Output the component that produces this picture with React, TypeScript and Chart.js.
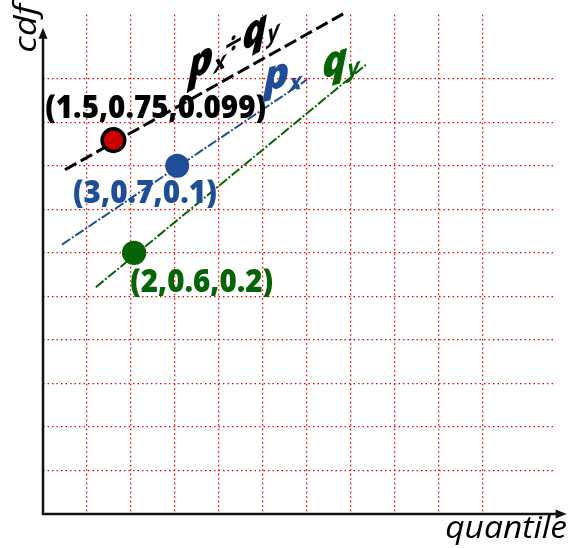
import { useEffect, useRef } from "react";
import { Chart, registerables } from "chart.js";

Chart.register(...registerables);

const BLUE = "#1F4E96";
const GREEN = "#056405";
const RED = "#CC0000";
const GRID_RED = "#e80000";

// grid units
const xMax = 11.59;
const yMax = 11.47;
const xArrowEnd = 11.9;
const yArrowEnd = 11.17;
const xGridTicks = [1, 2, 3, 4, 5, 6, 7, 8, 9, 10, 11];
const yGridTicks = [1, 2, 3, 4, 5, 6, 7, 8, 9, 10];

// lines
const blackLine = [
  { x: 0.5, y: 7.91 },
  { x: 6.82, y: 11.49 },
];
const blueLine = [
  { x: 0.43, y: 6.19 },
  { x: 6.0, y: 9.98 },
];
const greenLine = [
  { x: 1.2, y: 5.21 },
  { x: 7.36, y: 10.34 },
];

// points
const redPoint = [{ x: 1.6, y: 8.59 }];
const bluePoint = [{ x: 3.05, y: 8.0 }];
const greenPoint = [{ x: 2.07, y: 6.0 }];

// point labels
const pointLabelTexts = ["(1.5,0.75,0.099)", "(3,0.7,0.1)", "(2,0.6,0.2)"];
const pointLabelColors = ["#000000", BLUE, GREEN];
const pointLabelX0 = [0.05, 0.68, 1.98];
const pointLabelX1 = [5.07, 3.95, 5.23];
const pointLabelY = [9.1, 7.14, 5.11];

// curve labels
type Part = { t: string; sub?: boolean; sym?: boolean };
const curveLabels: { color: string; x: number; y: number; slope: number; parts: Part[] }[] = [
  {
    color: "#000000",
    x: 3.3,
    y: 9.92,
    slope: -0.57,
    parts: [{ t: "p" }, { t: "x", sub: true }, { t: "÷", sym: true }, { t: "q" }, { t: "y", sub: true }],
  },
  { color: BLUE, x: 5.02, y: 9.7, slope: -0.25, parts: [{ t: "p" }, { t: "x", sub: true }] },
  { color: GREEN, x: 6.34, y: 10.0, slope: -0.3, parts: [{ t: "q" }, { t: "y", sub: true }] },
];

const xTitle = "quantile";
const yTitle = "cdf";

const overlay = {
  id: "overlay",
  beforeDatasetsDraw(chart: any) {
    const ctx = chart.ctx;
    const xs = chart.scales.x;
    const ys = chart.scales.y;
    const x0 = xs.getPixelForValue(0);
    const y0 = ys.getPixelForValue(0);
    const xe = xs.getPixelForValue(xArrowEnd);
    const ye = ys.getPixelForValue(yArrowEnd);
    ctx.save();
    ctx.strokeStyle = "#111";
    ctx.fillStyle = "#111";
    ctx.lineWidth = 2.5;
    ctx.beginPath();
    ctx.moveTo(x0 - 1.2, y0);
    ctx.lineTo(xe - 8, y0);
    ctx.moveTo(x0, y0);
    ctx.lineTo(x0, ye + 8);
    ctx.stroke();
    ctx.beginPath();
    ctx.moveTo(xe, y0);
    ctx.lineTo(xe - 11, y0 - 4.5);
    ctx.lineTo(xe - 11, y0 + 4.5);
    ctx.closePath();
    ctx.fill();
    ctx.beginPath();
    ctx.moveTo(x0, ye);
    ctx.lineTo(x0 - 4.5, ye + 11);
    ctx.lineTo(x0 + 4.5, ye + 11);
    ctx.closePath();
    ctx.fill();
    ctx.restore();
  },
  afterDatasetsDraw(chart: any) {
    const ctx = chart.ctx;
    const xs = chart.scales.x;
    const ys = chart.scales.y;
    ctx.save();
    ctx.textBaseline = "alphabetic";
    ctx.textAlign = "left";
    // point labels, fitted to width
    pointLabelTexts.forEach((t, i) => {
      const l = xs.getPixelForValue(pointLabelX0[i]);
      const r = xs.getPixelForValue(pointLabelX1[i]);
      const b = ys.getPixelForValue(pointLabelY[i]);
      ctx.font = "800 31px 'Open Sans'";
      const w = ctx.measureText(t).width;
      ctx.save();
      ctx.translate(l, b);
      ctx.scale((r - l) / w, 1);
      ctx.fillStyle = pointLabelColors[i];
      ctx.fillText(t, 0, 0);
      ctx.restore();
    });
    // curve labels
    curveLabels.forEach((lab) => {
      ctx.save();
      ctx.translate(xs.getPixelForValue(lab.x), ys.getPixelForValue(lab.y));
      ctx.transform(1, lab.slope, 0, 1, 0, 0);
      ctx.fillStyle = lab.color;
      let cx = 0;
      lab.parts.forEach((p) => {
        if (p.sub) {
          ctx.font = "italic bold 23px 'Open Sans'";
          ctx.fillText(p.t, cx + 1, 6);
          cx += ctx.measureText(p.t).width + 2;
        } else if (p.sym) {
          ctx.font = "bold 30px 'Open Sans'";
          ctx.fillText(p.t, cx - 2, -3);
          cx += ctx.measureText(p.t).width - 2;
        } else {
          ctx.font = "italic 800 42px 'Open Sans'";
          ctx.fillText(p.t, cx, 0);
          cx += ctx.measureText(p.t).width - 1;
        }
      });
      ctx.restore();
    });
    // axis titles
    ctx.fillStyle = "#000";
    {
      const l = xs.getPixelForValue(9.14);
      const r = xs.getPixelForValue(11.91);
      const b = ys.getPixelForValue(-0.55);
      ctx.font = "italic 31px 'Open Sans'";
      const w = ctx.measureText(xTitle).width;
      ctx.save();
      ctx.translate(l, b);
      ctx.scale((r - l) / w, 1);
      ctx.fillText(xTitle, 0, 0);
      ctx.restore();
    }
    {
      const bx = xs.getPixelForValue(-0.16);
      const bot = ys.getPixelForValue(10.6);
      const top = ys.getPixelForValue(11.72);
      ctx.font = "italic 31px 'Open Sans'";
      const w = ctx.measureText(yTitle).width;
      ctx.save();
      ctx.translate(bx, bot);
      ctx.rotate(-Math.PI / 2);
      ctx.scale((bot - top) / w, 1);
      ctx.fillText(yTitle, 0, 0);
      ctx.restore();
    }
    ctx.restore();
  },
};

export default function App() {
  const ref = useRef<HTMLCanvasElement | null>(null);
  useEffect(() => {
    if (!ref.current) return;
    const chart = new Chart(ref.current, {
      type: "scatter",
      data: {
        datasets: [
          {
            data: redPoint,
            pointRadius: 11.3,
            pointBackgroundColor: RED,
            pointBorderColor: "#000",
            pointBorderWidth: 3.5,
            showLine: false,
          },
          {
            data: bluePoint,
            pointRadius: 12,
            pointBackgroundColor: BLUE,
            pointBorderColor: BLUE,
            pointBorderWidth: 0,
            showLine: false,
          },
          {
            data: greenPoint,
            pointRadius: 12.2,
            pointBackgroundColor: GREEN,
            pointBorderColor: GREEN,
            pointBorderWidth: 0,
            showLine: false,
          },
          {
            data: blackLine,
            showLine: true,
            borderColor: "#000",
            borderWidth: 3,
            borderDash: [13, 5],
            pointRadius: 0,
            clip: false as any,
          },
          {
            data: blueLine,
            showLine: true,
            borderColor: BLUE,
            borderWidth: 2,
            borderDash: [10, 2, 2, 2],
            pointRadius: 0,
            clip: false as any,
          },
          {
            data: greenLine,
            showLine: true,
            borderColor: GREEN,
            borderWidth: 2,
            borderDash: [10, 2, 2, 2],
            pointRadius: 0,
            clip: false as any,
          },
        ],
      },
      options: {
        animation: false,
        responsive: false,
        events: [],
        layout: { padding: { left: 43, right: 17, top: 14, bottom: 34 } },
        plugins: { legend: { display: false }, tooltip: { enabled: false } },
        scales: {
          x: {
            type: "linear",
            min: 0,
            max: xMax,
            ticks: { display: false, stepSize: 1 },
            afterFit: (s: any) => {
              s.height = 0;
            },
            grid: {
              drawTicks: false,
              lineWidth: 1.3,
              color: (c: any) => (xGridTicks.includes(c.tick?.value) ? GRID_RED : "rgba(0,0,0,0)"),
            },
            border: { display: false, dash: [1.5, 3] },
          },
          y: {
            type: "linear",
            min: 0,
            max: yMax,
            ticks: { display: false, stepSize: 1 },
            afterFit: (s: any) => {
              s.width = 0;
            },
            grid: {
              drawTicks: false,
              lineWidth: 1.3,
              color: (c: any) => (yGridTicks.includes(c.tick?.value) ? GRID_RED : "rgba(0,0,0,0)"),
            },
            border: { display: false, dash: [1.5, 3] },
          },
        },
      },
      plugins: [overlay],
    });
    return () => chart.destroy();
  }, []);
  return (
    <div style={{ position: "absolute", left: 0, top: 0, width: 570, height: 548, background: "#fff" }}>
      <canvas ref={ref} width={570} height={548} />
    </div>
  );
}
